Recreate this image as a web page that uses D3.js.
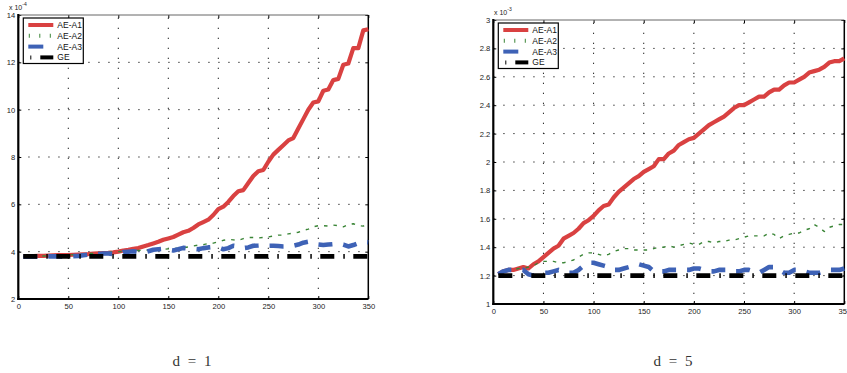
<!DOCTYPE html>
<html>
<head>
<meta charset="utf-8">
<script src="https://cdn.jsdelivr.net/npm/d3@7"></script>
<style>
  body { margin: 0; background: #fff; }
  svg { display: block; }
  .tick text { font-family: "Liberation Sans", Arial, sans-serif; font-size: 7.6px; fill: #222; }
</style>
</head>
<body>
<svg id="chart" width="847" height="373"></svg>
<script>
// sample positions (iterations)
var steps = [5,10,15,20,25,30,35,40,45,50,55,60,65,70,75,80,85,90,95,100,
             105,110,115,120,125,130,135,140,145,150,155,160,165,170,175,180,185,190,195,200,
             205,210,215,220,225,230,235,240,245,250,255,260,265,270,275,280,285,290,295,300,
             305,310,315,320,325,330,335,340,345,350];

var seriesNames = ['AE-A1', 'AE-A2', 'AE-A3', 'GE'];
var xTicks = [0, 50, 100, 150, 200, 250, 300, 350];

// d = 1 panel, values x 10^-4
var yTicks1 = [2, 4, 6, 8, 10, 12, 14];
var a1_d1 = [3.80,3.80,3.81,3.82,3.82,3.83,3.84,3.85,3.85,3.86,3.87,3.88,3.89,3.90,3.92,3.93,3.94,3.95,3.97,4.00,
             4.05,4.08,4.12,4.15,4.22,4.28,4.35,4.42,4.50,4.56,4.62,4.72,4.82,4.88,5.00,5.15,5.25,5.35,5.55,5.80,
             5.90,6.10,6.35,6.55,6.60,6.90,7.20,7.40,7.45,7.80,8.10,8.30,8.50,8.70,8.80,9.20,9.60,10.0,10.30,10.35,
             10.80,10.85,11.25,11.30,11.90,11.95,12.60,12.60,13.35,13.40];
var a2_d1 = [3.80,3.80,3.81,3.81,3.82,3.82,3.83,3.84,3.85,3.86,3.87,3.88,3.90,3.92,3.93,3.95,3.96,3.98,3.99,4.00,
             4.01,4.03,4.04,4.05,4.06,4.06,4.07,4.09,4.10,4.12,4.13,4.15,4.17,4.20,4.24,4.28,4.30,4.34,4.36,4.42,
             4.48,4.52,4.50,4.48,4.55,4.60,4.60,4.58,4.60,4.62,4.66,4.70,4.70,4.75,4.78,4.82,4.90,4.95,5.05,5.10,
             5.10,5.08,5.12,5.10,5.05,5.15,5.18,5.10,5.08,5.22];
var a3_d1 = [3.79,3.79,3.79,3.79,3.80,3.80,3.80,3.80,3.79,3.80,3.81,3.82,3.85,3.88,3.88,3.90,3.92,3.92,3.90,3.90,
             3.98,4.00,4.02,3.98,3.95,4.02,4.08,4.10,4.12,4.08,4.05,4.10,4.16,4.14,4.12,4.10,4.15,4.18,4.20,4.18,
             4.10,4.15,4.25,4.22,4.15,4.18,4.25,4.26,4.28,4.25,4.25,4.24,4.22,4.22,4.25,4.30,4.38,4.42,4.38,4.30,
             4.28,4.30,4.32,4.34,4.30,4.22,4.28,4.36,4.42,4.40];
var ge_d1 = 3.80;

// d = 5 panel, values x 10^-3
var yTicks5 = [1, 1.2, 1.4, 1.6, 1.8, 2, 2.2, 2.4, 2.6, 2.8, 3];
var a1_d5 = [1.21,1.23,1.24,1.24,1.25,1.26,1.25,1.28,1.30,1.33,1.36,1.39,1.41,1.46,1.48,1.50,1.53,1.57,1.59,1.62,
             1.66,1.69,1.70,1.75,1.79,1.82,1.85,1.88,1.90,1.93,1.95,1.97,2.02,2.02,2.06,2.08,2.12,2.14,2.16,2.17,
             2.20,2.23,2.26,2.28,2.30,2.32,2.35,2.38,2.40,2.40,2.42,2.44,2.46,2.46,2.49,2.51,2.51,2.54,2.56,2.56,
             2.58,2.60,2.63,2.64,2.65,2.67,2.70,2.71,2.71,2.73];
var a2_d5 = [1.21,1.23,1.24,1.24,1.25,1.25,1.26,1.27,1.29,1.30,1.30,1.30,1.29,1.29,1.30,1.31,1.33,1.35,1.36,1.36,
             1.35,1.34,1.35,1.37,1.38,1.39,1.39,1.38,1.38,1.38,1.38,1.39,1.40,1.40,1.41,1.40,1.41,1.42,1.43,1.42,
             1.42,1.44,1.44,1.43,1.44,1.44,1.45,1.45,1.46,1.47,1.48,1.48,1.48,1.48,1.50,1.49,1.46,1.48,1.49,1.50,
             1.50,1.52,1.53,1.56,1.54,1.51,1.54,1.55,1.56,1.56];
var a3_d5 = [1.21,1.23,1.24,1.24,1.24,1.24,1.21,1.20,1.21,1.22,1.22,1.23,1.24,1.23,1.22,1.22,1.24,1.27,1.29,1.29,
             1.28,1.27,1.26,1.24,1.24,1.25,1.26,1.27,1.28,1.27,1.26,1.23,1.23,1.23,1.24,1.24,1.24,1.24,1.24,1.25,
             1.25,1.24,1.23,1.23,1.24,1.24,1.24,1.23,1.23,1.24,1.24,1.23,1.22,1.24,1.26,1.26,1.24,1.22,1.22,1.24,
             1.24,1.23,1.22,1.22,1.22,1.23,1.24,1.24,1.24,1.25];
var ge_d5 = 1.20;

var svg = d3.select('#chart');

// line styles, in legend order
var styles = [
  { color: '#d94141', width: 4.2, dash: null },
  { color: '#3a8536', width: 1.4, dash: '3.5,6' },
  { color: '#3e62b6', width: 4.6, dash: '14,11' },
  { color: '#000000', width: 4.6, dash: '14,9,1.5,8.5' }
];

function drawPanel(p) {
  var x = d3.scaleLinear().domain([0, 350]).range([p.left, p.right]);
  var y = d3.scaleLinear().domain(p.yDomain).range([p.bottom, p.top]);
  var g = svg.append('g');

  // dotted grid
  g.selectAll('.gx').data(xTicks.slice(1, -1)).enter().append('line')
    .attr('x1', d => x(d)).attr('x2', d => x(d))
    .attr('y1', p.bottom).attr('y2', p.top)
    .attr('stroke', '#222').attr('stroke-width', 1)
    .attr('stroke-dasharray', '1.3,8.7');
  g.selectAll('.gy').data(p.yTicks.slice(1, -1)).enter().append('line')
    .attr('y1', d => y(d)).attr('y2', d => y(d))
    .attr('x1', p.left).attr('x2', p.right)
    .attr('stroke', '#222').attr('stroke-width', 1)
    .attr('stroke-dasharray', '1.3,8.7');

  // axes with inward ticks
  g.append('g').attr('transform', `translate(0,${p.bottom})`)
    .call(d3.axisBottom(x).tickValues(xTicks).tickSize(-3).tickPadding(5).tickFormat(d3.format('d')))
    .call(a => a.select('.domain').remove());
  g.append('g').attr('transform', `translate(0,${p.top})`)
    .call(d3.axisTop(x).tickValues(xTicks).tickSize(-3).tickFormat(''))
    .call(a => a.select('.domain').remove());
  g.append('g').attr('transform', `translate(${p.left},0)`)
    .call(d3.axisLeft(y).tickValues(p.yTicks).tickSize(-3).tickPadding(3).tickFormat(d => d3.format('~g')(d)))
    .call(a => a.select('.domain').remove());
  g.append('g').attr('transform', `translate(${p.right},0)`)
    .call(d3.axisRight(y).tickValues(p.yTicks).tickSize(-3).tickFormat(''))
    .call(a => a.select('.domain').remove());

  // box
  g.append('line').attr('x1', p.left).attr('x2', p.right).attr('y1', p.top).attr('y2', p.top)
    .attr('stroke', '#666').attr('stroke-width', 1);
  g.append('line').attr('x1', p.right).attr('x2', p.right).attr('y1', p.top).attr('y2', p.bottom)
    .attr('stroke', '#000').attr('stroke-width', 1.5);
  g.append('line').attr('x1', p.left).attr('x2', p.left).attr('y1', p.top - 1).attr('y2', p.bottom + 1)
    .attr('stroke', '#000').attr('stroke-width', 2.2);
  g.append('line').attr('x1', p.left - 1).attr('x2', p.right).attr('y1', p.bottom).attr('y2', p.bottom)
    .attr('stroke', '#000').attr('stroke-width', 2.2);

  // series
  var line = d3.line().x((d, i) => x(steps[i])).y(d => y(d));
  var all = [p.a1, p.a2, p.a3, steps.map(() => p.ge)];
  all.forEach(function(vals, k) {
    var s = styles[k];
    g.append('path').datum(vals)
      .attr('d', line)
      .attr('fill', 'none')
      .attr('stroke', s.color)
      .attr('stroke-width', s.width)
      .attr('stroke-linejoin', 'round')
      .attr('stroke-dasharray', s.dash);
  });

  // exponent label
  var ex = g.append('text').attr('x', p.expX).attr('y', p.top - 5)
    .style('font-family', '"Liberation Sans", Arial, sans-serif').style('font-size', '7px').attr('fill', '#222');
  ex.append('tspan').text('x 10');
  ex.append('tspan').attr('dy', -4).style('font-size', '5px').text(p.exp);

  // legend
  var lg = g.append('g').attr('transform', `translate(${p.left + 5},${p.top + 3})`);
  lg.append('rect').attr('width', 60).attr('height', 45.5)
    .attr('fill', '#fff').attr('stroke', '#000').attr('stroke-width', 1.2);
  seriesNames.forEach(function(name, k) {
    var ly = 7 + k * 10.8;
    var s = styles[k];
    if (k === 0) {
      lg.append('line').attr('x1', 5).attr('x2', 30).attr('y1', ly).attr('y2', ly)
        .attr('stroke', s.color).attr('stroke-width', 4);
    } else if (k === 1) {
      lg.append('line').attr('x1', 5.5).attr('x2', 30).attr('y1', ly).attr('y2', ly)
        .attr('stroke', s.color).attr('stroke-width', 4).attr('stroke-dasharray', '1,9.5');
    } else if (k === 2) {
      lg.append('line').attr('x1', 5).attr('x2', 20).attr('y1', ly).attr('y2', ly)
        .attr('stroke', s.color).attr('stroke-width', 4);
    } else {
      lg.append('line').attr('x1', 7).attr('x2', 8).attr('y1', ly).attr('y2', ly)
        .attr('stroke', s.color).attr('stroke-width', 4);
      lg.append('line').attr('x1', 17).attr('x2', 30).attr('y1', ly).attr('y2', ly)
        .attr('stroke', s.color).attr('stroke-width', 4);
    }
    lg.append('text').attr('x', 34).attr('y', ly + 3)
      .style('font-family', '"Liberation Sans", Arial, sans-serif').style('font-size', '8.5px')
      .attr('fill', '#111').text(name);
  });

  // caption
  svg.append('text').attr('x', p.capX).attr('y', 366)
    .attr('text-anchor', 'middle')
    .style('font-family', '"Liberation Serif", "DejaVu Serif", serif').style('font-size', '15px')
    .style('word-spacing', '4px').attr('fill', '#333')
    .text(p.caption);
}

drawPanel({ left: 18.3, right: 368.3, top: 15, bottom: 299, yDomain: [2, 14], yTicks: yTicks1, expX: 9,
            a1: a1_d1, a2: a2_d1, a3: a3_d1, ge: ge_d1, exp: '-4', caption: 'd = 1', capX: 192 });
drawPanel({ left: 493.3, right: 844.3, top: 20, bottom: 304, yDomain: [1, 3], yTicks: yTicks5, expX: 494,
            a1: a1_d5, a2: a2_d5, a3: a3_d5, ge: ge_d5, exp: '-3', caption: 'd = 5', capX: 673 });
</script>
</body>
</html>
